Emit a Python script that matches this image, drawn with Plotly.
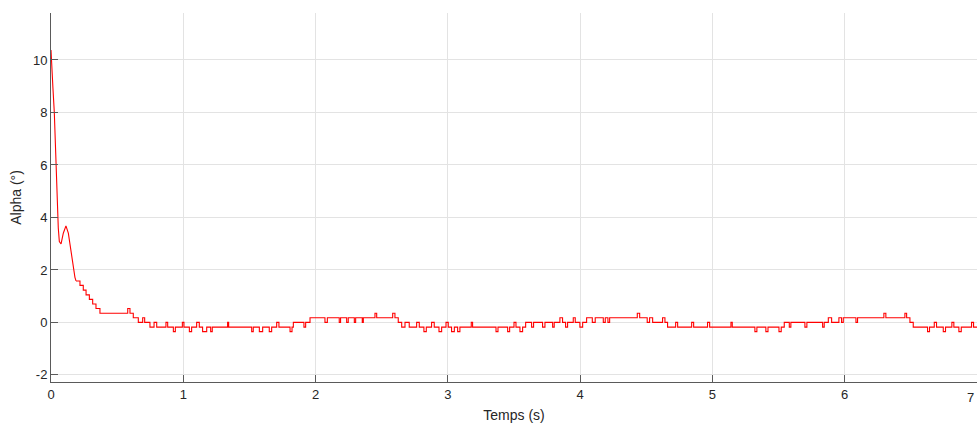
import plotly.graph_objects as go

# Smooth initial transient (time in s, alpha in degrees)
t_smooth = [0.0, 0.005, 0.015, 0.025, 0.038, 0.043, 0.055, 0.063, 0.076, 0.093, 0.113,
            0.131, 0.149, 0.169, 0.181, 0.189]
a_smooth = [10.38, 9.75, 8.9, 8.0, 6.0, 4.67, 3.6, 3.08, 2.99, 3.40, 3.68,
            3.40, 2.76, 2.00, 1.72, 1.58]

# Quantized (step) part: time at which each level starts, and the level (degrees)
t_step = [0.189, 0.219, 0.244, 0.265, 0.290, 0.315, 0.340, 0.370,
          0.580, 0.597, 0.622, 0.660, 0.693, 0.708, 0.748, 0.779, 0.799,
          0.869, 0.882, 0.925, 0.940, 0.993, 1.005, 1.046, 1.063, 1.101, 1.121,
          1.146, 1.177, 1.207, 1.219, 1.335, 1.343, 1.517, 1.529, 1.575, 1.600,
          1.650, 1.668, 1.706, 1.723, 1.807, 1.822, 1.832, 1.912, 1.925, 1.958,
          2.071, 2.089, 2.179, 2.189, 2.235, 2.247, 2.293, 2.303, 2.353, 2.361,
          2.449, 2.462, 2.583, 2.600, 2.625,
          2.651, 2.676, 2.708, 2.764, 2.784, 2.819, 2.837, 2.877, 2.897, 2.933,
          2.953, 2.986, 3.003, 3.028, 3.049, 3.074, 3.091, 3.177, 3.187, 3.364,
          3.379, 3.452, 3.467, 3.500, 3.515, 3.545, 3.565, 3.588, 3.633, 3.648,
          3.716, 3.734, 3.792, 3.804, 3.847, 3.867, 3.890, 3.905, 3.948, 3.963,
          3.998, 4.019, 4.049, 4.092, 4.114, 4.175, 4.190, 4.210, 4.223, 4.432,
          4.450, 4.507, 4.525, 4.548, 4.623, 4.641, 4.661,
          4.722, 4.737, 4.843, 4.858, 4.963, 4.979, 5.140, 5.150, 5.321, 5.336,
          5.404, 5.420, 5.503, 5.520, 5.543, 5.581, 5.593, 5.699, 5.714, 5.833,
          5.845, 5.876, 5.901, 5.956, 5.976, 5.989, 6.085, 6.097, 6.296, 6.311,
          6.455, 6.468, 6.493, 6.518, 6.626, 6.641, 6.677, 6.694, 6.745, 6.762,
          6.810, 6.825, 6.863, 6.881, 6.959, 6.974, 7.0]
a_step = [1.58, 1.41, 1.23, 1.05, 0.88, 0.70, 0.53, 0.35,
          0.53, 0.35, 0.18, 0.0, 0.18, 0.0, -0.18, 0.0, -0.18,
          0.0, -0.18, -0.35, -0.18, 0.0, -0.18, -0.35, -0.18, 0.0, -0.18,
          -0.35, -0.18, -0.35, -0.18, 0.0, -0.18, -0.35, -0.18, -0.35, -0.18,
          -0.35, -0.18, 0.0, -0.18, -0.35, -0.18, 0.0, -0.18, 0.0, 0.18,
          0.0, 0.18, 0.0, 0.18, 0.0, 0.18, 0.0, 0.18, 0.0, 0.18,
          0.35, 0.18, 0.35, 0.18, 0.0,
          -0.18, 0.0, -0.18, 0.0, -0.18, -0.35, -0.18, 0.0, -0.18, -0.35,
          -0.18, 0.0, -0.18, -0.35, -0.18, -0.35, -0.18, 0.0, -0.18, -0.35,
          -0.18, -0.35, -0.18, 0.0, -0.18, -0.35, -0.18, 0.0, -0.18, 0.0,
          -0.18, 0.0, -0.18, 0.0, 0.18, 0.0, -0.18, 0.0, 0.18, 0.0,
          -0.18, 0.0, 0.18, 0.0, 0.18, 0.0, 0.18, 0.0, 0.18, 0.35,
          0.18, 0.0, 0.18, 0.0, 0.18, 0.0, -0.18,
          0.0, -0.18, 0.0, -0.18, 0.0, -0.18, 0.0, -0.18, -0.35, -0.18,
          -0.35, -0.18, -0.35, -0.18, 0.0, -0.18, 0.0, -0.18, 0.0, -0.18,
          0.0, 0.18, 0.0, 0.18, 0.0, 0.18, 0.0, 0.18, 0.35, 0.18,
          0.35, 0.18, 0.0, -0.18, -0.35, -0.18, 0.0, -0.18, -0.35, -0.18,
          0.0, -0.18, -0.35, -0.18, 0.0, -0.18, -0.18]

x_ticks = [0, 1, 2, 3, 4, 5, 6, 7]
y_ticks = [-2, 0, 2, 4, 6, 8, 10]

RED = "#ff0000"
AX = "#5a5a5a"
TXT = "#262626"
GRID = "#e3e3e3"
FONT = "Liberation Sans, Arial, Helvetica, sans-serif"

fig = go.Figure()
fig.add_trace(go.Scatter(x=t_smooth, y=a_smooth, mode="lines",
                         line=dict(color=RED, width=1.1), showlegend=False,
                         hoverinfo="skip"))
fig.add_trace(go.Scatter(x=t_step, y=a_step, mode="lines",
                         line=dict(color=RED, width=1.1, shape="hv"),
                         showlegend=False, hoverinfo="skip"))

# last tick label sits at the figure's right edge (kept fully visible)
fig.add_annotation(x=1, xref="paper", y=0, yref="paper", yanchor="top", yshift=-6,
                   xanchor="right", xshift=-1,
                   text=str(x_ticks[-1]), showarrow=False,
                   font=dict(family=FONT, size=13, color=TXT))

fig.update_layout(
    width=977, height=425,
    margin=dict(l=51, r=0, t=13, b=43),
    paper_bgcolor="white", plot_bgcolor="white",
    font=dict(family=FONT, size=13, color=TXT),
    xaxis=dict(range=[0, 7], tickvals=x_ticks, ticktext=[str(v) for v in x_ticks],
               showgrid=True, gridcolor=GRID, gridwidth=1, zeroline=False,
               showline=True, linecolor=AX, linewidth=1,
               ticks="inside", ticklen=7, tickcolor=AX, tickwidth=1,
               tickfont=dict(size=13, color=TXT),
               title=dict(text="Temps (s)", font=dict(size=14, color=TXT), standoff=9),
               automargin=False),
    yaxis=dict(range=[-2.27, 11.79], tickvals=y_ticks, ticktext=[str(v) for v in y_ticks],
               showgrid=True, gridcolor=GRID, gridwidth=1, zeroline=False,
               showline=True, linecolor=AX, linewidth=1,
               ticks="inside", ticklen=7, tickcolor=AX, tickwidth=1,
               tickfont=dict(size=13, color=TXT),
               title=dict(text="Alpha (°)", font=dict(size=14, color=TXT), standoff=8),
               automargin=False),
)

fig.write_html("out.html", config={"displayModeBar": False},
               post_script="document.body.style.margin='0';document.body.style.overflow='hidden';")
